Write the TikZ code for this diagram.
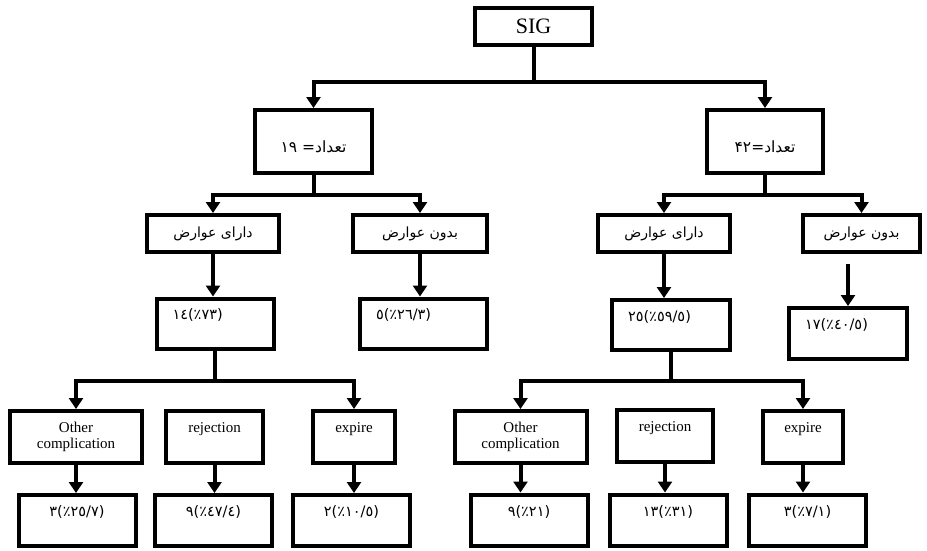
\documentclass[tikz,border=0pt]{standalone}
\usepackage{fontspec}
\setmainfont{Liberation Serif}
\newfontfamily\fa[Script=Arabic]{DejaVu Sans}
\newfontfamily\fanum{DejaVu Sans}
\TeXXeTstate=1
\usetikzlibrary{arrows.meta}

% number with percentage in brackets, kept left to right
\newcommand\prc[2]{#1\kern0pt(\kern0pt٪\kern0pt#2\kern0pt)}

\begin{document}
\begin{tikzpicture}
	[x=1pt, y=-1pt, line width=4pt,
	 box/.style 2 args = {draw, minimum width=#1, minimum height=#2, inner sep=2pt},
	 lat/.style = {font=\fontsize{15}{16.5}\selectfont},
	 fa/.style = {font=\fa\fontsize{14}{16}\selectfont},
	 num/.style = {font=\fanum\fontsize{14.5}{16}\selectfont},
	 cnt/.style = {font=\fa\fontsize{15.5}{17}\selectfont, text height=24pt, text depth=3pt},
	 up/.style = {text height=10pt, text depth=20pt},
	 pct/.style = {draw, num, align=left, inner xsep=16pt, minimum height=50pt, text height=9pt, text depth=17pt},
	 res/.style = {box={117pt}{51pt}, num, text height=9pt, text depth=17pt},
	 arr/.style = {-{Triangle[length=11pt, width=14pt]}}]
	\useasboundingbox (0,0) rectangle (927,550);

	\node[box={117pt}{37pt}, font=\fontsize{22}{24}\selectfont] (sig) at (533.5,26.5) {SIG};
	\node[box={117pt}{63pt}, cnt] (c19) at (313.5,141.5) {\beginR تعداد= ۱۹\endR};
	\node[box={116pt}{63pt}, cnt] (c42) at (765,141.5) {\beginR تعداد=۴۲\endR};

	\node[box={132pt}{37pt}, fa] (yes1) at (213,233.5) {\beginR دارای عوارض\endR};
	\node[box={134pt}{37pt}, fa] (no1) at (420,233.5) {\beginR بدون عوارض\endR};
	\node[box={132pt}{37pt}, fa] (yes2) at (664,233.5) {\beginR دارای عوارض\endR};
	\node[box={117pt}{37pt}, fa] (no2) at (861.5,233.5) {\beginR بدون عوارض\endR};

	\node[pct, text width=85pt] (p14) at (215,323.5) {\prc{١٤}{٧٣}};
	\node[pct, text width=95pt] (p5) at (423.5,323.5) {\prc{٥}{٢٦/٣}};
	\node[pct, text width=86pt] (p25) at (671,325) {\prc{٢٥}{٥٩/٥}};
	\node[pct, text width=86pt, minimum height=51pt] (p17) at (848,333.5) {\prc{١٧}{٤٠/٥}};

	\node[box={132pt}{52pt}, lat, align=center] (oc1) at (76,437) {Other\\complication};
	\node[box={97pt}{52pt}, lat, up] (rj1) at (214.5,437) {rejection};
	\node[box={82pt}{52pt}, lat, up] (ex1) at (354,437) {expire};
	\node[box={132pt}{52pt}, lat, align=center] (oc2) at (520.5,437) {Other\\complication};
	\node[box={96pt}{52pt}, lat, up] (rj2) at (665,436) {rejection};
	\node[box={80pt}{52pt}, lat, up] (ex2) at (803,437) {expire};

	\node[res] (r1) at (77,520.5) {\prc{٣}{٢٥/٧}};
	\node[res] (r2) at (213.5,520.5) {\prc{٩}{٤٧/٤}};
	\node[res] (r3) at (351.5,520.5) {\prc{٢}{١٠/٥}};
	\node[res] (r4) at (529,520) {\prc{٩}{٢١}};
	\node[res] (r5) at (668,520) {\prc{١٣}{٣١}};
	\node[res] (r6) at (807.5,520) {\prc{٣}{٧/١}};

	\draw[arr] (sig.south) -- ++(0,35) -| (c19.north);
	\draw[arr] (sig.south) -- ++(0,35) -| (c42.north);
	\draw[arr] (c19.south) -- ++(0,20) -| (yes1.north);
	\draw[arr] (c19.south) -- ++(0,20) -| (no1.north);
	\draw[arr] (c42.south) -- ++(0,20) -| (yes2.north);
	\draw[arr] (c42.south) -- ++(0,20) -| (no2.north);

	\draw[arr] (yes1.south) -- (yes1.south |- p14.north);
	\draw[arr] (no1.south) -- (no1.south |- p5.north);
	\draw[arr] (yes2.south) -- (yes2.south |- p25.north);
	\draw[arr] ([yshift=-10pt]no2.south -| p17.north) -- (p17.north);

	\draw[arr] (p14.south) -- ++(0,30) -| (oc1.north);
	\draw[arr] (p14.south) -- ++(0,30) -| (ex1.north);
	\draw[arr] (p25.south) -- ++(0,29) -| (oc2.north);
	\draw[arr] (p25.south) -- ++(0,29) -| (ex2.north);

	\foreach \a/\b in {oc1/r1, rj1/r2, ex1/r3, oc2/r4, rj2/r5, ex2/r6}
		\draw[arr] (\a.south) -- (\a.south |- \b.north);

\end{tikzpicture}
\end{document}
